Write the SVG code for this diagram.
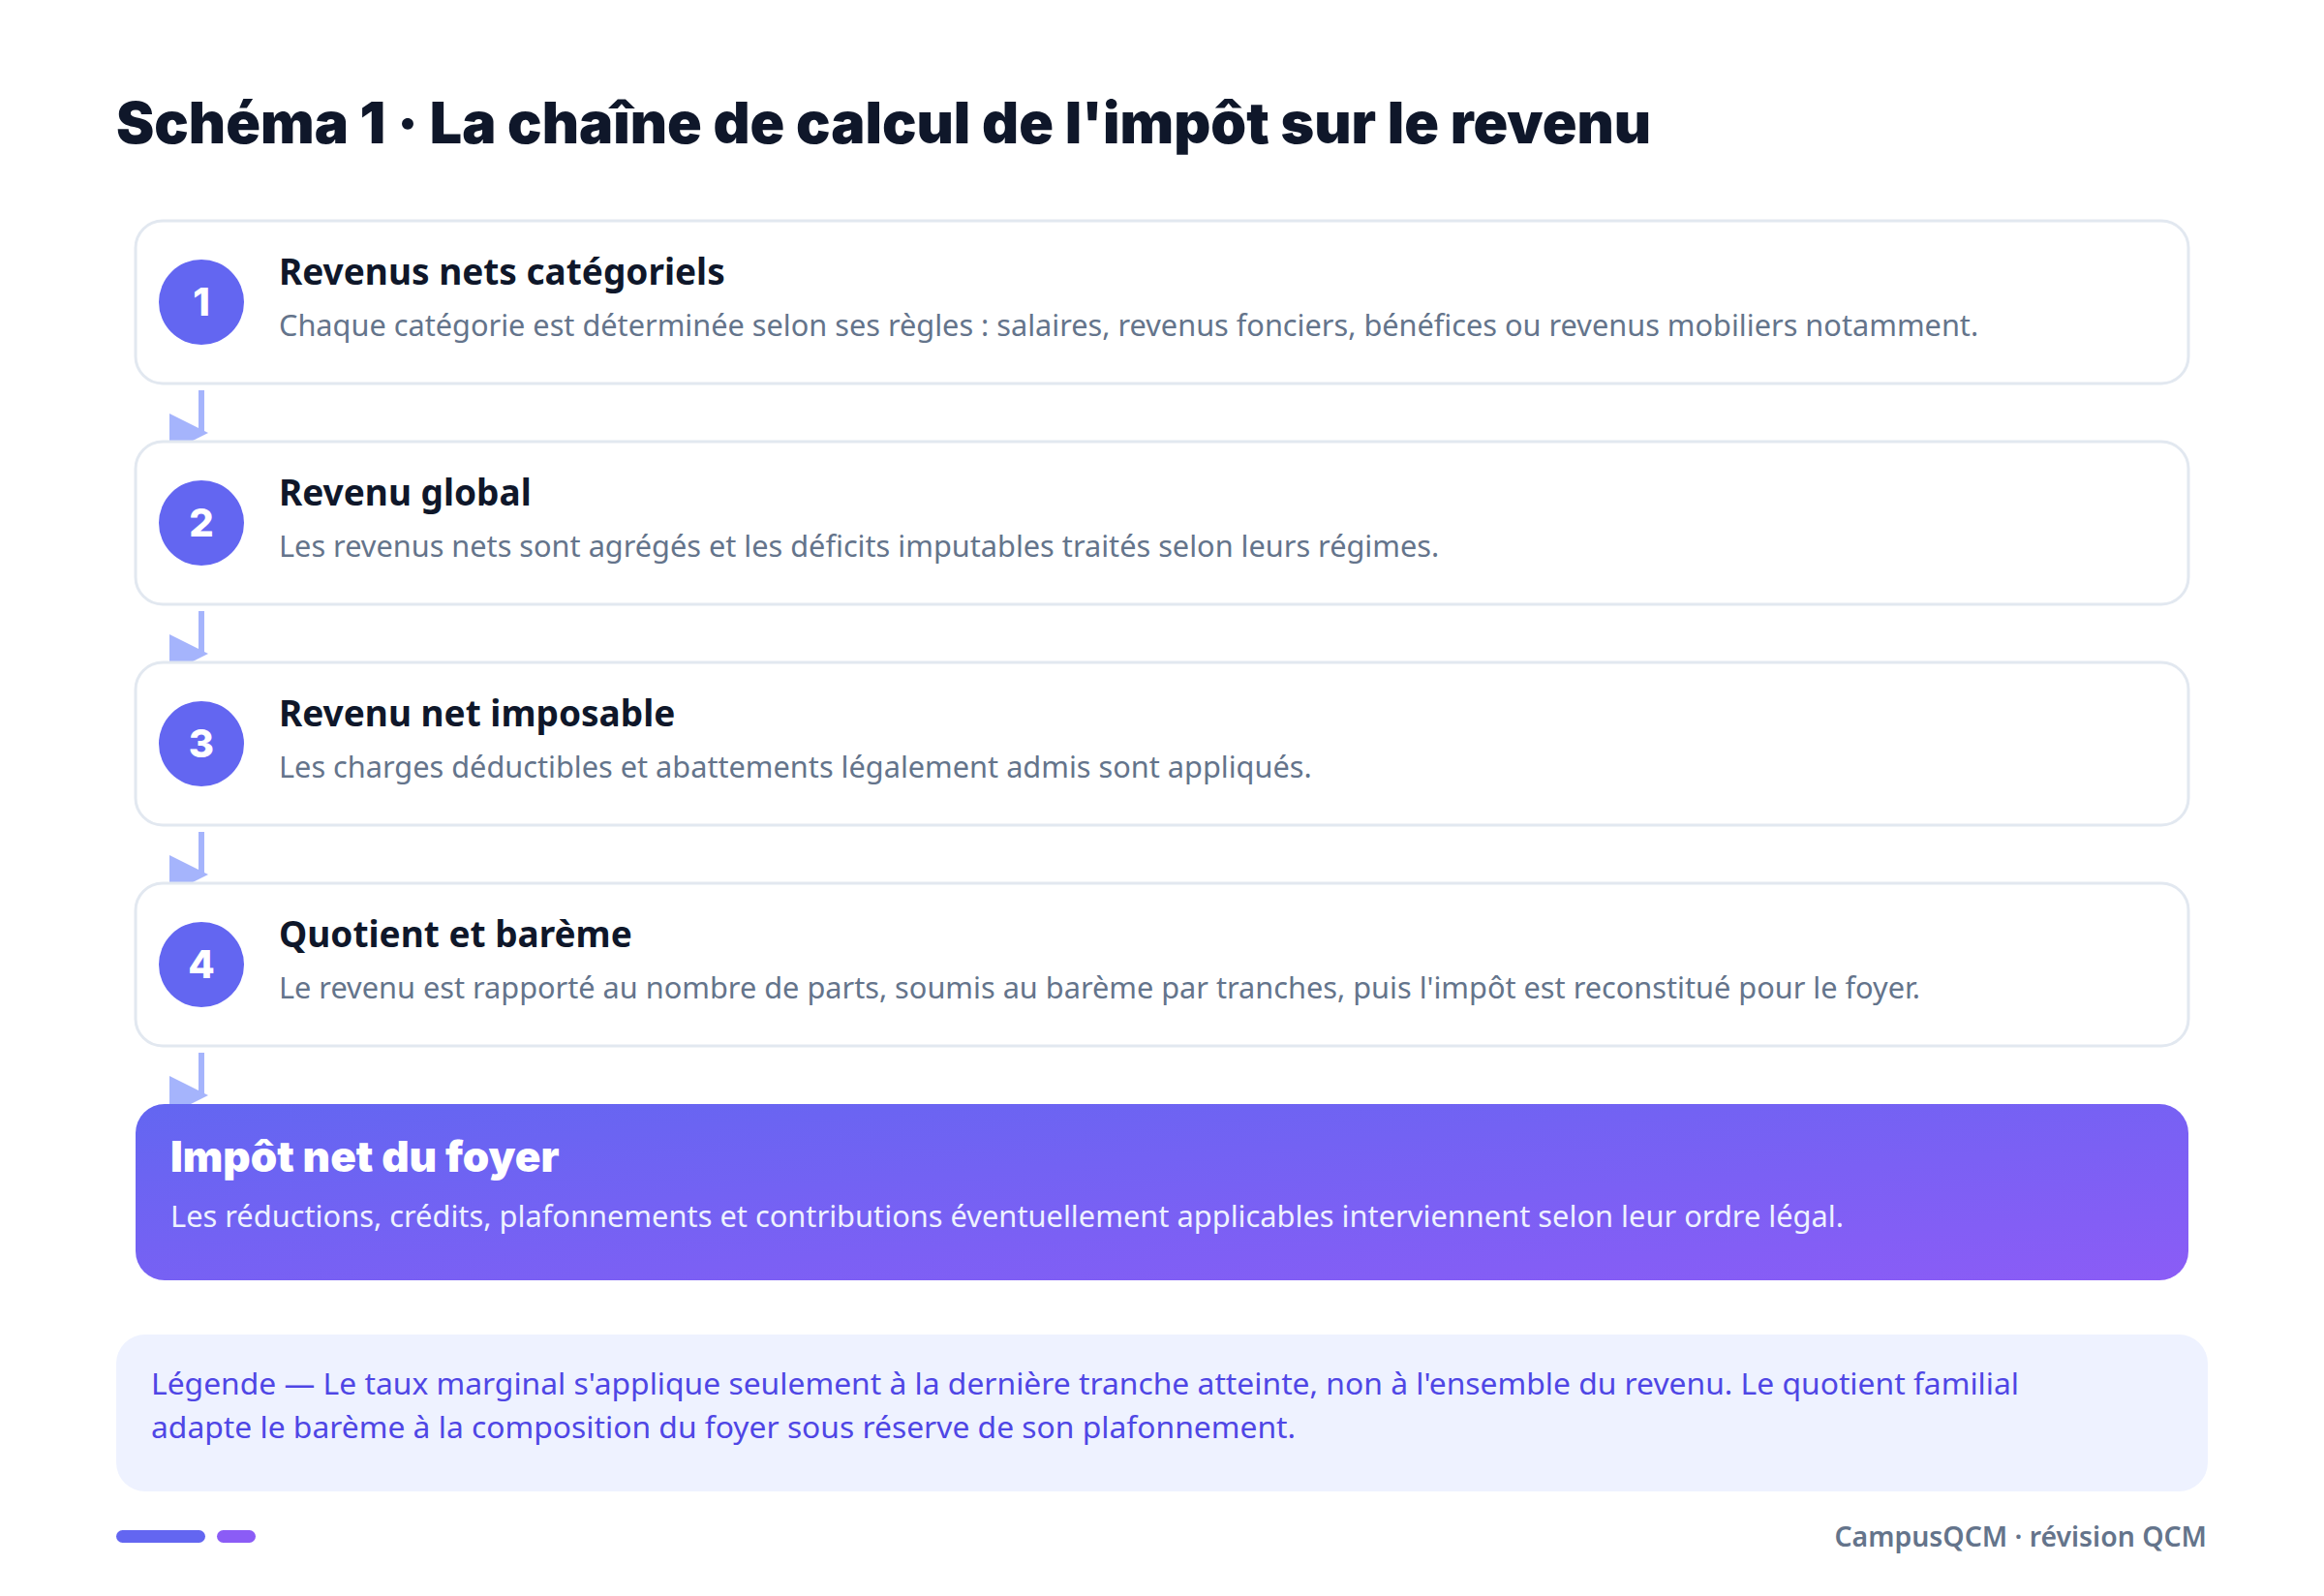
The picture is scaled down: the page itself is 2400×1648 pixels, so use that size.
<svg xmlns="http://www.w3.org/2000/svg" width="2400" height="1648" viewBox="0 0 2400 1648">
  <defs>
    <linearGradient id="gradFinal" x1="0" y1="0" x2="1" y2="1">
      <stop offset="0" stop-color="#6366f1"/>
      <stop offset="1" stop-color="#8b5cf6"/>
    </linearGradient>
    <style>
      .title { font-family: Inter, "Noto Sans", sans-serif; font-weight: 900; font-size: 59px; fill: #0f172a; }
      .card { fill: #ffffff; stroke: #e2e8f0; stroke-width: 3; }
      .badge { fill: #6366f1; }
      .num { font-family: Inter, "Noto Sans", sans-serif; font-weight: 800; font-size: 40px; fill: #ffffff; text-anchor: middle; }
      .ctitle { font-family: "Noto Sans", "Open Sans", sans-serif; font-weight: 700; font-size: 37px; fill: #0f172a; }
      .cdesc { font-family: "Noto Sans", "Open Sans", sans-serif; font-size: 30.7px; fill: #64748b; }
      .ftitle { font-family: Inter, "Noto Sans", sans-serif; font-weight: 900; font-size: 44px; fill: #ffffff; }
      .fdesc { font-family: "Noto Sans", "Open Sans", sans-serif; font-size: 30.8px; fill: #eef2ff; }
      .legend { font-family: "Noto Sans", "Open Sans", sans-serif; font-size: 31.8px; fill: #4f46e5; }
      .foot { font-family: "Noto Sans", "Open Sans", sans-serif; font-weight: 600; font-size: 28.4px; fill: #64748b; text-anchor: end; }
      .conn { stroke: #a5b4fc; stroke-width: 6; fill: none; }
      .head { fill: #a5b4fc; }
    </style>
  </defs>

  <rect width="2400" height="1648" fill="#ffffff"/>

  <text class="title" x="120" y="148">Schéma 1 · La chaîne de calcul de l'impôt sur le revenu</text>

  <g id="connectors">
    <line class="conn" x1="208" y1="403" x2="208" y2="447"/>
    <polygon class="head" points="175,427 215,447 175,467"/>
    <line class="conn" x1="208" y1="631" x2="208" y2="675"/>
    <polygon class="head" points="175,655 215,675 175,695"/>
    <line class="conn" x1="208" y1="859" x2="208" y2="903"/>
    <polygon class="head" points="175,883 215,903 175,923"/>
    <line class="conn" x1="208" y1="1087" x2="208" y2="1131"/>
    <polygon class="head" points="175,1111 215,1131 175,1151"/>
  </g>

  <g id="step1">
    <rect class="card" x="140" y="228" width="2120" height="168" rx="28"/>
    <circle class="badge" cx="208" cy="312" r="44"/>
    <text class="num" x="208" y="326">1</text>
    <text class="ctitle" x="288" y="294">Revenus nets catégoriels</text>
    <text class="cdesc" x="288" y="347">Chaque catégorie est déterminée selon ses règles : salaires, revenus fonciers, bénéfices ou revenus mobiliers notamment.</text>
  </g>

  <g id="step2">
    <rect class="card" x="140" y="456" width="2120" height="168" rx="28"/>
    <circle class="badge" cx="208" cy="540" r="44"/>
    <text class="num" x="208" y="554">2</text>
    <text class="ctitle" x="288" y="522">Revenu global</text>
    <text class="cdesc" x="288" y="575">Les revenus nets sont agrégés et les déficits imputables traités selon leurs régimes.</text>
  </g>

  <g id="step3">
    <rect class="card" x="140" y="684" width="2120" height="168" rx="28"/>
    <circle class="badge" cx="208" cy="768" r="44"/>
    <text class="num" x="208" y="782">3</text>
    <text class="ctitle" x="288" y="750">Revenu net imposable</text>
    <text class="cdesc" x="288" y="803">Les charges déductibles et abattements légalement admis sont appliqués.</text>
  </g>

  <g id="step4">
    <rect class="card" x="140" y="912" width="2120" height="168" rx="28"/>
    <circle class="badge" cx="208" cy="996" r="44"/>
    <text class="num" x="208" y="1010">4</text>
    <text class="ctitle" x="288" y="978">Quotient et barème</text>
    <text class="cdesc" x="288" y="1031">Le revenu est rapporté au nombre de parts, soumis au barème par tranches, puis l'impôt est reconstitué pour le foyer.</text>
  </g>

  <g id="final">
    <rect x="140" y="1140" width="2120" height="182" rx="30" fill="url(#gradFinal)"/>
    <text class="ftitle" x="176" y="1210">Impôt net du foyer</text>
    <text class="fdesc" x="176" y="1267">Les réductions, crédits, plafonnements et contributions éventuellement applicables interviennent selon leur ordre légal.</text>
  </g>

  <g id="legend">
    <rect x="120" y="1378" width="2160" height="162" rx="30" fill="#eef2ff"/>
    <text class="legend" x="156" y="1440">Légende — Le taux marginal s'applique seulement à la dernière tranche atteinte, non à l'ensemble du revenu. Le quotient familial</text>
    <text class="legend" x="156" y="1485">adapte le barème à la composition du foyer sous réserve de son plafonnement.</text>
  </g>

  <g id="footer">
    <rect x="120" y="1580" width="92" height="13" rx="6.5" fill="#6366f1"/>
    <rect x="224" y="1580" width="40" height="13" rx="6.5" fill="#8b5cf6"/>
    <text class="foot" x="2279" y="1597">CampusQCM · révision QCM</text>
  </g>
</svg>
